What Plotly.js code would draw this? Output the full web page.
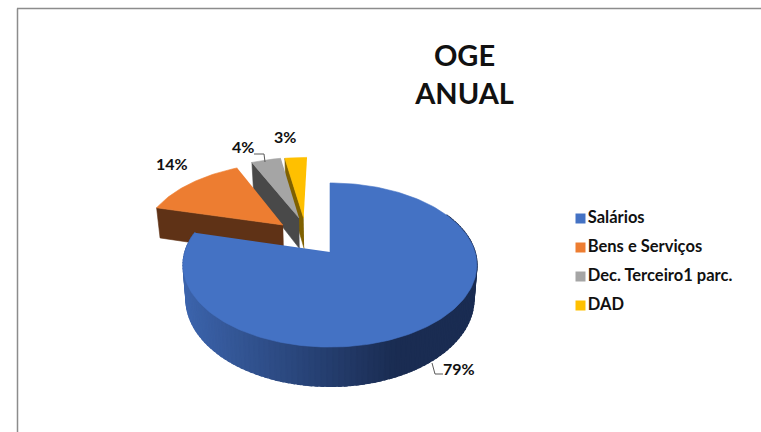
<!DOCTYPE html>
<html>
<head>
<meta charset="utf-8">
<script src="https://cdn.plot.ly/plotly-3.0.1.min.js"></script>
<style>html,body{margin:0;padding:0;background:#fff;overflow:hidden}#c{width:761px;height:432px}</style>
</head>
<body>
<div id="c"></div>
<script>
// ---- data ----
const categories = ["Salários", "Bens e Serviços", "Dec. Terceiro1 parc.", "DAD"];
const values = [79, 14, 4, 3];
const percentLabels = ["79%", "14%", "4%", "3%"];

// ---- styling ----
const topColors = ["#4472c4", "#ed7d31", "#a5a5a5", "#ffc000"];
const sideColors = ["#2a4a80", "#5f3216", "#494949", "#7f6000"];
const explodeU = [0, -0.342, -0.229, -0.195];
const explodeV = [0, 0.3566, 0.4555, 0.4555];

// ---- 3D pie projection (tilted disc in perspective) ----
const X0 = 330, Y0 = 252, A = 145, B = 80, K = 0.1585, DEPTH = 33, SHRINK = 0.98;
function project(u, v, low) {
  const s = 1 / (1 + K * v);
  const f = low ? SHRINK : 1;
  return [X0 + A * u * s * f, Y0 - B * v * s + (low ? DEPTH * s : 0)];
}
function rim(i, deg, low) {
  const t = deg * Math.PI / 180;
  return project(Math.sin(t) + explodeU[i], Math.cos(t) + explodeV[i], low);
}
function poly(points, color, w) {
  return {
    type: "scatter", mode: "lines", fill: "toself", fillcolor: color,
    x: points.map(p => p[0]), y: points.map(p => p[1]),
    line: { color: color, width: w === undefined ? 0.6 : w }, hoverinfo: "skip", showlegend: false
  };
}
const total = values.reduce((a, b) => a + b, 0);
const starts = [];
values.reduce((acc, v, i) => { starts[i] = acc; return acc + v / total * 360; }, 0);
const ends = starts.map((s, i) => s + values[i] / total * 360);

function topFace(i) {
  const pts = [project(explodeU[i], explodeV[i], false)];
  for (let d = starts[i]; d < ends[i]; d += 1.5) pts.push(rim(i, d, false));
  pts.push(rim(i, ends[i], false));
  return poly(pts, topColors[i]);
}
function cutFace(i) {
  return poly([
    project(explodeU[i], explodeV[i], false), rim(i, starts[i], false),
    rim(i, starts[i], true), project(explodeU[i], explodeV[i], true)
  ], sideColors[i]);
}
function mix(a, b, t) {
  return "rgb(" + a.map((c, j) => Math.round(c + (b[j] - c) * t)).join(",") + ")";
}
function blueRim() {
  const out = [];
  const left = [60, 100, 172], right = [26, 44, 82];
  for (let d = 60; d < ends[0]; d += 2) {
    const d2 = Math.min(d + 3, ends[0]);
    const p = rim(0, d, false);
    const q = Math.min(1, Math.max(0, (p[0] - 187) / 215));
    out.push(poly([rim(0, d, false), rim(0, d2, false), rim(0, d2, true), rim(0, d, true)],
      mix(left, right, q), 1.5));
  }
  return out.reverse();
}

const traces = [];
[3, 2, 1].forEach(i => { traces.push(cutFace(i)); traces.push(topFace(i)); });
blueRim().forEach(t => traces.push(t));
traces.push(topFace(0));

// leader lines
const leaderStyle = { color: "#595959", width: 1 };
traces.push({ type: "scatter", mode: "lines", x: [432, 435, 443], y: [363, 374, 374], line: leaderStyle, hoverinfo: "skip", showlegend: false });
traces.push({ type: "scatter", mode: "lines", x: [254, 264, 265], y: [154, 154, 162], line: leaderStyle, hoverinfo: "skip", showlegend: false });

// legend
const legendY = [218.5, 247.5, 276.5, 305.5];
traces.push({
  type: "scatter", mode: "markers+text",
  x: categories.map(() => 580.5), y: legendY,
  text: categories, textposition: "middle right",
  textfont: { family: "Lato, sans-serif", size: 16.5, color: "#111", weight: 700 },
  marker: { symbol: "square", size: 10, color: topColors },
  hoverinfo: "skip", showlegend: false
});

const labelX = [459, 172, 243, 285], labelY = [368, 163, 146, 136];
const annotations = percentLabels.map((t, i) => ({
  text: "<b>" + t + "</b>", x: labelX[i], y: labelY[i], xref: "x", yref: "y",
  showarrow: false, xanchor: "center", yanchor: "middle",
  font: { family: "Lato, sans-serif", size: 16, color: "#111" }
}));

const layout = {
  width: 761, height: 432, margin: { l: 0, r: 0, t: 0, b: 0 },
  paper_bgcolor: "#fff", plot_bgcolor: "#fff", showlegend: false,
  title: {
    text: "<b>OGE<br>ANUAL</b>", x: 464.5 / 761, xanchor: "center", xref: "paper",
    y: 1 - 66 / 432, yanchor: "top", yref: "container",
    font: { family: "Lato, sans-serif", size: 29, color: "#111" }
  },
  xaxis: { range: [0, 761], visible: false, fixedrange: true },
  yaxis: { range: [432, 0], visible: false, fixedrange: true },
  annotations: annotations,
  shapes: [
    { type: "line", xref: "x", yref: "y", x0: 17.5, x1: 17.5, y0: 8.5, y1: 432, line: { color: "#8c8c8c", width: 1.5 } },
    { type: "line", xref: "x", yref: "y", x0: 17, x1: 761, y0: 8.5, y1: 8.5, line: { color: "#8c8c8c", width: 1.5 } }
  ]
};
Plotly.newPlot("c", traces, layout, { displayModeBar: false, staticPlot: true });
</script>
</body>
</html>
